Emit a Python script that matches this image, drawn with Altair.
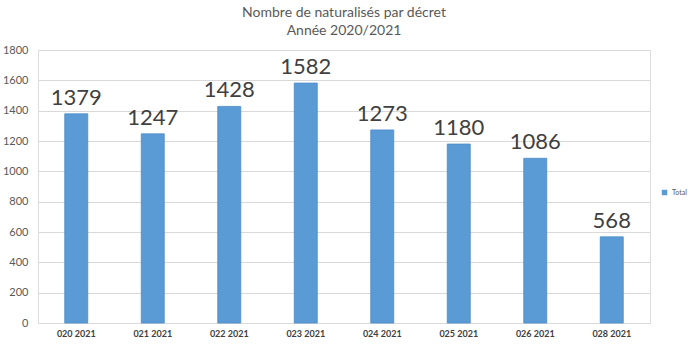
import altair as alt
import pandas as pd

decrets = ["020 2021", "021 2021", "022 2021", "023 2021", "024 2021", "025 2021", "026 2021", "028 2021"]
totals = [1379, 1247, 1428, 1582, 1273, 1180, 1086, 568]
series = ["Total"] * len(decrets)

df = pd.DataFrame({"decret": decrets, "total": totals, "serie": series})

FONT = "Lato"

base = alt.Chart(df).encode(
    x=alt.X("decret:N", sort=decrets, title=None,
            scale=alt.Scale(paddingInner=0.0, paddingOuter=0.0),
            axis=alt.Axis(labelAngle=0, labelFontSize=9, labelFontWeight="bold",
                          labelColor="#404040", labelPadding=6, ticks=False,
                          domain=False, grid=False, labelFont=FONT)),
    y=alt.Y("total:Q", title=None,
            scale=alt.Scale(domain=[0, 1800]),
            axis=alt.Axis(values=list(range(0, 1801, 200)), format="d", labelFontSize=11,
                          labelColor="#595959", labelPadding=10, ticks=False,
                          domain=False, gridColor="#D9D9D9", labelFont=FONT)),
)

bars = base.mark_bar(size=23, stroke="#4A8AC8", strokeWidth=0.8).encode(
    color=alt.Color("serie:N", scale=alt.Scale(range=["#5B9BD5"]),
                    legend=alt.Legend(title=None, orient="none", legendX=623, legendY=139,
                                      labelFontSize=7, labelColor="#595959",
                                      symbolType="square", symbolSize=30,
                                      labelFont=FONT, symbolStrokeWidth=0))
)

labels = base.mark_text(baseline="bottom", dy=-4, fontSize=22, color="#404040", font=FONT).encode(
    text=alt.Text("total:Q")
)

chart = (bars + labels).properties(
    width=612, height=273,
    title=alt.TitleParams(["Nombre de naturalisés par décret", "Année 2020/2021"],
                          fontSize=14, fontWeight="normal", color="#595959",
                          lineHeight=18, offset=6, anchor="middle", font=FONT),
    padding={"left": 38, "top": 50, "right": 40, "bottom": 22},
    autosize=alt.AutoSizeParams(type="none"),
).configure_view(stroke=None).configure(background="white")

chart.save("out.html", embed_options={"renderer": "svg", "actions": False})
